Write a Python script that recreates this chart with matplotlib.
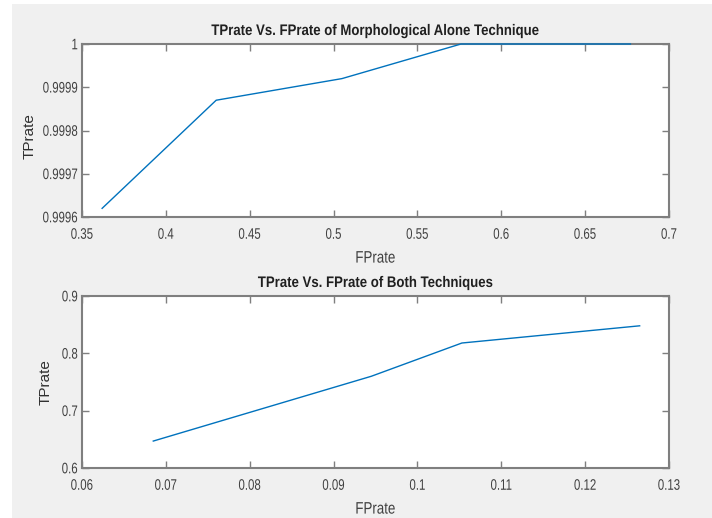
import matplotlib
matplotlib.use("Agg")
import matplotlib.pyplot as plt
from matplotlib.patches import Rectangle
from matplotlib.patheffects import AbstractPathEffect
from matplotlib.transforms import Affine2D

## data
fp_morph = [0.362, 0.430, 0.505, 0.576, 0.677]
tp_morph = [0.99962, 0.99987, 0.99992, 1.0, 1.0]

fp_both = [0.0685, 0.0945, 0.1053, 0.1265]
tp_both = [0.647, 0.760, 0.818, 0.848]

x_ticks_top = [0.35, 0.4, 0.45, 0.5, 0.55, 0.6, 0.65, 0.7]
x_labels_top = ["0.35", "0.4", "0.45", "0.5", "0.55", "0.6", "0.65", "0.7"]
y_ticks_top = [0.9996, 0.9997, 0.9998, 0.9999, 1.0]
y_labels_top = ["0.9996", "0.9997", "0.9998", "0.9999", "1"]

x_ticks_bot = [0.06, 0.07, 0.08, 0.09, 0.1, 0.11, 0.12, 0.13]
x_labels_bot = ["0.06", "0.07", "0.08", "0.09", "0.1", "0.11", "0.12", "0.13"]
y_ticks_bot = [0.6, 0.7, 0.8, 0.9]
y_labels_bot = ["0.6", "0.7", "0.8", "0.9"]

FONT = ["Liberation Sans", "DejaVu Sans"]
LINE_COLOR = "#0072BD"
SPINE_COLOR = "#7f7f7f"
TEXT_COLOR = "#404040"


class Tall(AbstractPathEffect):
    """stretch glyphs vertically so a smaller font looks condensed
    (the reference text is narrow Helvetica)"""

    def __init__(self, sy, pivot="center"):
        super().__init__()
        self.sy = sy
        self.pivot = pivot

    def draw_path(self, renderer, gc, tpath, affine, rgbFace=None):
        ext = tpath.get_extents()
        if self.pivot == "top":
            p = ext.y1
        elif self.pivot == "bottom":
            p = 0.0
        else:
            p = (ext.y0 + ext.y1) / 2
        pre = Affine2D().translate(0, -p).scale(1, self.sy).translate(0, p)
        renderer.draw_path(gc, tpath, pre + affine, rgbFace)


fig = plt.figure(figsize=(7.12, 5.18), dpi=100)
fig.patch.set_facecolor("white")
# grey MATLAB figure background, thin white margin on the left/top
fig.patches.append(Rectangle((12 / 712, 0), 700 / 712, 514 / 518,
                             transform=fig.transFigure, facecolor="#f0f0f0",
                             edgecolor="none", zorder=-10))


def style_axes(ax, xt, xl, yt, yl, xlim, ylim, title, ylab_pos):
    ax.set_facecolor("white")
    ax.set_xlim(*xlim)
    ax.set_ylim(*ylim)
    ax.set_xticks(xt)
    for t in ax.set_xticklabels(xl, family=FONT, fontsize=8.25, color=TEXT_COLOR):
        t.set_path_effects([Tall(1 / 0.75, "top")])
    ax.set_yticks(yt)
    for t in ax.set_yticklabels(yl, family=FONT, fontsize=8.25, color=TEXT_COLOR):
        t.set_path_effects([Tall(1 / 0.75, "center")])
    ax.tick_params(direction="in", length=5, width=1, color=SPINE_COLOR,
                   top=True, right=True)
    ax.tick_params(axis="x", pad=8)
    ax.tick_params(axis="y", pad=3)
    for s in ax.spines.values():
        s.set_color(SPINE_COLOR)
        s.set_linewidth(1.5)
    tt = ax.set_title(title, family=FONT, fontsize=9.5, fontweight="bold",
                      color="#202020", pad=6.5)
    tt.set_path_effects([Tall(11 / 9.5, "bottom")])
    xlab = ax.set_xlabel("FPrate", family=FONT, fontsize=9.6, color=TEXT_COLOR,
                         labelpad=9.5)
    xlab.set_path_effects([Tall(1.25, "top")])
    ax.set_ylabel("TPrate", family=FONT, fontsize=11, color="#303030")
    ax.yaxis.set_label_coords(*ylab_pos)


ax1 = fig.add_axes([82 / 712, 1 - 217 / 518, 587 / 712, 173 / 518])
ax1.plot(fp_morph, tp_morph, color=LINE_COLOR, linewidth=1,
         clip_on=False, zorder=3)
style_axes(ax1, x_ticks_top, x_labels_top, y_ticks_top, y_labels_top,
           (0.35, 0.7), (0.9996, 1.0),
           "TPrate Vs. FPrate of Morphological Alone Technique", (-0.077, 0.47))

ax2 = fig.add_axes([82 / 712, 1 - 468 / 518, 587 / 712, 172 / 518])
ax2.plot(fp_both, tp_both, color=LINE_COLOR, linewidth=1,
         clip_on=False, zorder=3)
style_axes(ax2, x_ticks_bot, x_labels_bot, y_ticks_bot, y_labels_bot,
           (0.06, 0.13), (0.6, 0.9),
           "TPrate Vs. FPrate of Both Techniques", (-0.05, 0.5))

plt.savefig("out.png", dpi=100, facecolor=fig.get_facecolor())
plt.close()
